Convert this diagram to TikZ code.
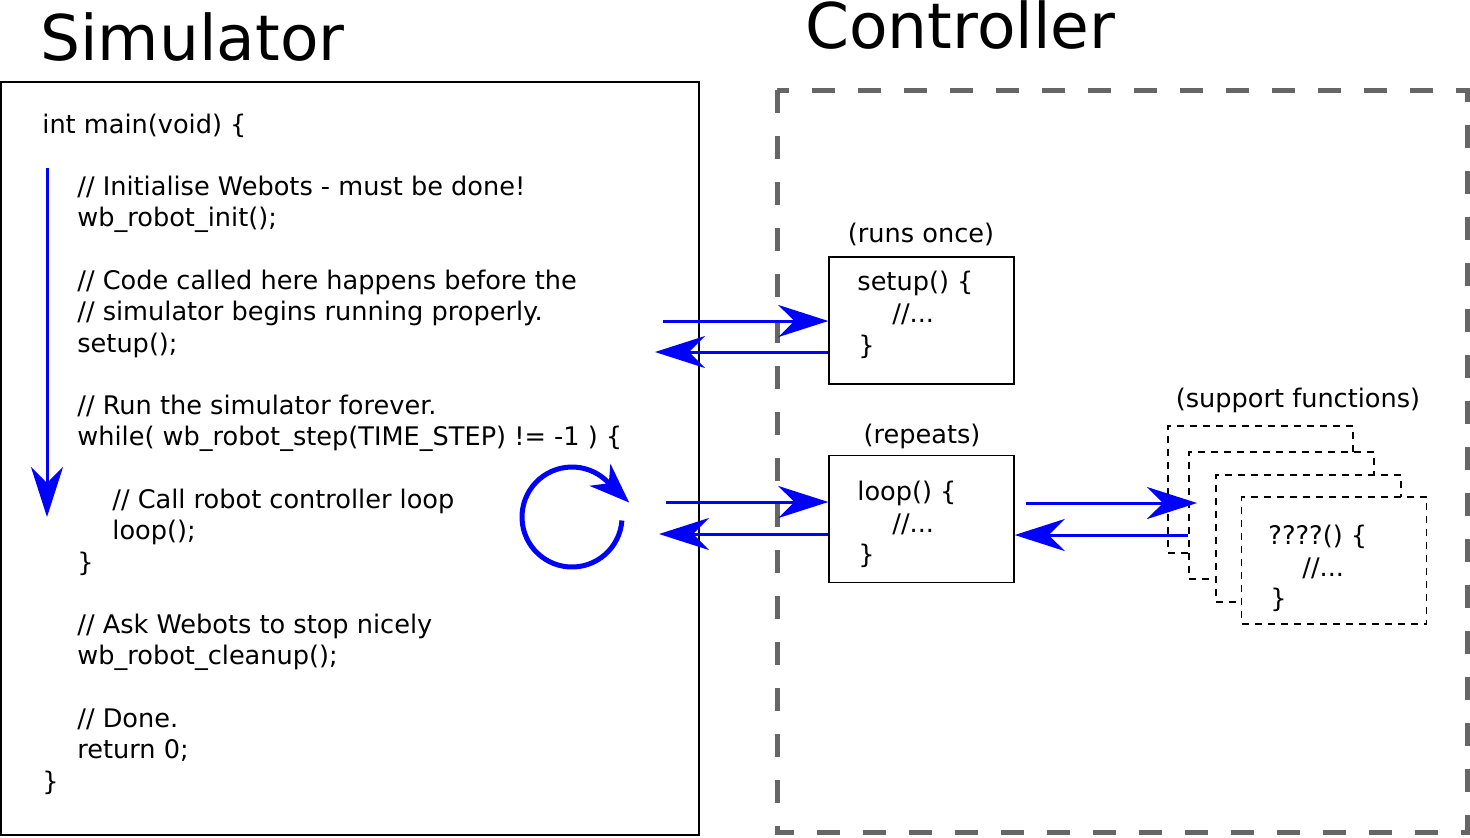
\documentclass[tikz,border=0pt]{standalone}
\usepackage{fontspec}
\setmainfont{DejaVu Sans}
\usetikzlibrary{arrows.meta}

\definecolor{ctrlgray}{HTML}{666666}
\newcommand{\codesize}{\fontsize{12.8pt}{15pt}\selectfont}
\newcommand{\titlesize}{\fontsize{31.5pt}{36pt}\selectfont}

\tikzset{
  code/.style={anchor=base west, inner sep=0pt, font=\codesize},
  label/.style={anchor=base, inner sep=0pt, font=\codesize},
  title/.style={anchor=base west, inner sep=0pt, font=\titlesize},
  fnbox/.style={draw, line width=0.7pt, minimum width=92.5pt, minimum height=63.5pt, inner sep=0pt},
  supbox/.style={fnbox, dash pattern=on 3.5pt off 3pt, line width=0.6pt, fill=white},
  call/.style={draw=blue, line width=1.5pt, -{Stealth[length=25pt, width=16pt, inset=8pt]}},
  loopy/.style={draw=blue, line width=2.5pt, -{Stealth[length=20pt, width=15pt, inset=6pt]}}
}

\begin{document}
\begin{tikzpicture}[x=0.5pt, y=-0.5pt]
  \useasboundingbox (0,0) rectangle (1470,837);

  % titles
  \node[title] (simtitle)  at (40,60)  {Simulator};
  \node[title] (ctrltitle) at (805,48) {Controller};

  % the two halves
  \draw[ctrlgray, line width=2.5pt, dash pattern=on 11.5pt off 11.5pt] (777,90) rectangle (1467,832);
  \draw[line width=0.8pt] (1,82) rectangle (699,835);

  % simulator code
  \node[code] (m0)  at (42,133)    {int main(void) \{};
  \node[code] (m2)  at (77,195.6)  {// Initialise Webots - must be done!};
  \node[code] (m3)  at (77,226.9)  {wb\_robot\_init();};
  \node[code] (m5)  at (77,289.5)  {// Code called here happens before the};
  \node[code] (m6)  at (77,320.7)  {// simulator begins running properly.};
  \node[code] (m7)  at (77,352)    {setup();};
  \node[code] (m9)  at (77,414.6)  {// Run the simulator forever.};
  \node[code] (m10) at (77,445.9)  {while( wb\_robot\_step(TIME\_STEP) != -1 ) \{};
  \node[code] (m12) at (112,508.5) {// Call robot controller loop};
  \node[code] (m13) at (112,539.8) {loop();};
  \node[code] (m14) at (77,571)    {\}};
  \node[code] (m16) at (77,633.6)  {// Ask Webots to stop nicely};
  \node[code] (m17) at (77,664.9)  {wb\_robot\_cleanup();};
  \node[code] (m19) at (77,727.5)  {// Done.};
  \node[code] (m20) at (77,758.8)  {return 0;};
  \node[code] (m21) at (42,790.1)  {\}};

  % controller functions
  \node[label] (oncelbl) at (921,242) {(runs once)};
  \node[fnbox] (setup) at (921.5,320.5) {};
  \node[code] (setup1) at (857,290) {setup() \{};
  \node[code] (setup2) at (892,322) {//...};
  \node[code] (setup3) at (858,354) {\}};

  \node[label] (replbl) at (922,443) {(repeats)};
  \node[fnbox] (loop) at (921.5,519) {};
  \node[code] (loop1) at (857,500) {loop() \{};
  \node[code] (loop2) at (892,532) {//...};
  \node[code] (loop3) at (858,563) {\}};

  \node[label] (suplbl) at (1298,407) {(support functions)};
  \foreach \i/\x/\y in {1/1260.5/489.5, 2/1281.5/515.5, 3/1308.5/538.5, 4/1334/560.5}
    \node[supbox] (s\i) at (\x,\y) {};
  \node[code] (sup1) at (1268,544) {????() \{};
  \node[code] (sup2) at (1302,576) {//...};
  \node[code] (sup3) at (1270,607) {\}};

  % free ends
  \coordinate (flowtop) at (47,168);
  \coordinate (flowbot) at (47,517);
  \coordinate (loopc)   at (572,517);
  \coordinate (setupin)  at (663,321);
  \coordinate (setupret) at (655,352);
  \coordinate (loopin)   at (666,502);
  \coordinate (loopret)  at (659,534);
  \coordinate (supout)   at (1026,503);
  \coordinate (supin)    at (1197,503);
  \coordinate (supret)   at (1188,535);

  % arrows
  \draw[call] (flowtop) -- (flowbot);
  \draw[loopy] (loopc) ++(4:50) arc[start angle=4, end angle=318, radius=50] -- ++(20,19);

  \draw[call] (setupin) -- (setup.west |- setupin);
  \draw[call] (setup.west |- setupret) -- (setupret);
  \draw[call] (loopin) -- (loop.west |- loopin);
  \draw[call] (loop.west |- loopret) -- (loopret);
  \draw[call] (supout) -- (supin);
  \draw[call] (supret) -- (loop.east |- supret);

\end{tikzpicture}
\end{document}
